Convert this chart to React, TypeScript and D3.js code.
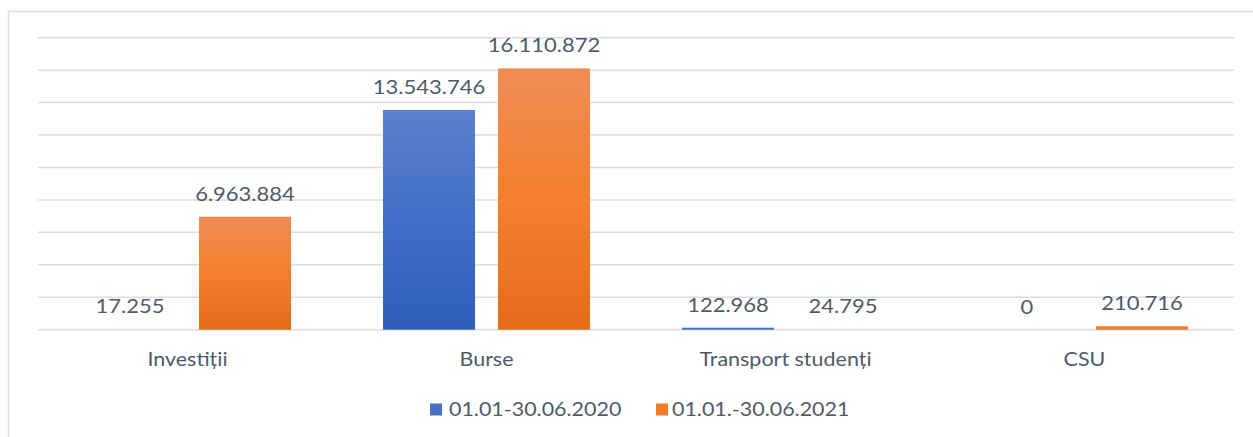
import React from "react";
import * as d3 from "d3";

const categories = ["Investiții", "Burse", "Transport studenți", "CSU"];
const seriesNames = ["01.01-30.06.2020", "01.01.-30.06.2021"];
const values2020 = [17255, 13543746, 122968, 0];
const values2021 = [6963884, 16110872, 24795, 210716];
const gridTicks = [0, 2e6, 4e6, 6e6, 8e6, 10e6, 12e6, 14e6, 16e6, 18e6];

const W = 1253;
const H = 437;
const FONT = "Lato, 'Open Sans', sans-serif";
const TEXT = "#4f5a69";

const locale = d3.formatLocale({ decimal: ",", thousands: ".", grouping: [3], currency: ["", ""] });
const fmt = locale.format(",");

function T({ x, y, sx = 1.1, size, anchor = "middle", children }: any) {
  return (
    <text
      transform={`translate(${x},${y}) scale(${sx},1)`}
      textAnchor={anchor}
      fontFamily={FONT}
      fontSize={size}
      fill={TEXT}
    >
      {children}
    </text>
  );
}

export default function App() {
  const x0 = d3.scaleBand<string>().domain(categories).range([38, 1234]).paddingInner(0).paddingOuter(0);
  const x1 = d3.scaleBand<string>().domain(["a", "b"]).range([46, 299 - 46]).paddingInner(0.2);
  const y = d3.scaleLinear().domain([0, 18e6]).range([329.7, 37.7]);
  const series = [
    { key: "a", name: seriesNames[0], values: values2020, grad: "gBlue", color: "#4472c4" },
    { key: "b", name: seriesNames[1], values: values2021, grad: "gOrange", color: "#f27a26" },
  ];
  const bw = x1.bandwidth();

  return (
    <svg width={W} height={H} style={{ position: "absolute", left: 0, top: 0, background: "#fff" }}>
      <defs>
        <linearGradient id="gBlue" x1="0" y1="0" x2="0" y2="1">
          <stop offset="0" stopColor="#5c80cc" />
          <stop offset="0.5" stopColor="#426fc8" />
          <stop offset="1" stopColor="#2f5eb8" />
        </linearGradient>
        <linearGradient id="gOrange" x1="0" y1="0" x2="0" y2="1">
          <stop offset="0" stopColor="#ef8c56" />
          <stop offset="0.5" stopColor="#f47f2c" />
          <stop offset="1" stopColor="#e56b19" />
        </linearGradient>
      </defs>
      <rect x={8.5} y={11.5} width={1260} height={440} fill="#fff" stroke="#d9dde3" strokeWidth={1.5} />
      {gridTicks.map((t) => (
        <line key={t} x1={38} x2={1234} y1={y(t)} y2={y(t)} stroke="#d9dde3" strokeWidth={1.5} />
      ))}
      {categories.map((c, i) => (
        <g key={c} transform={`translate(${x0(c)},0)`}>
          {series.map((s) => {
            const v = s.values[i];
            const top = y(v);
            const h = y(0) - top;
            const cx = (x1(s.key) as number) + bw / 2;
            return (
              <g key={s.key}>
                {h > 1 && (
                  <rect
                    x={x1(s.key)}
                    y={top}
                    width={bw}
                    height={h}
                    fill={h < 5 ? s.color : `url(#${s.grad})`}
                  />
                )}
                <T x={cx} y={top - 16} size={20}>
                  {fmt(v)}
                </T>
              </g>
            );
          })}
          <T x={299 / 2} y={365.5} size={19} sx={1.13}>
            {c}
          </T>
        </g>
      ))}
      <g>
        <rect x={430} y={403.5} width={12} height={12} fill="#4472c4" />
        <T x={449} y={415.7} size={19.5} anchor="start">
          {series[0].name}
        </T>
        <rect x={656} y={403.5} width={12} height={12} fill="#f27a26" />
        <T x={672} y={415.7} size={19.5} anchor="start">
          {series[1].name}
        </T>
      </g>
    </svg>
  );
}
